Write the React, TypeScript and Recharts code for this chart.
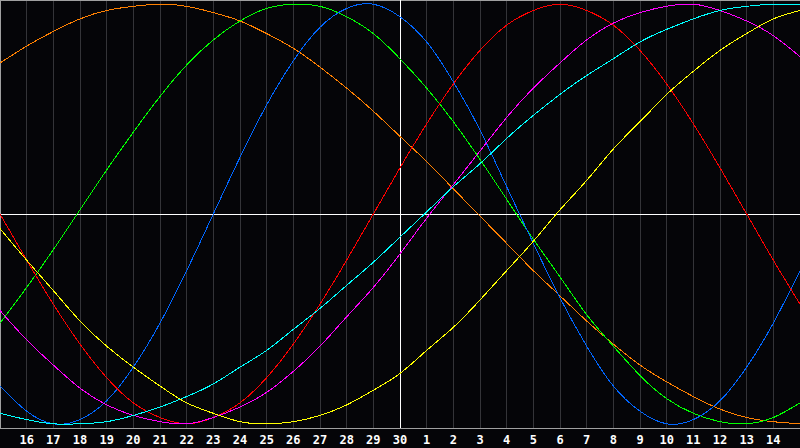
import React from "react";
import { LineChart, Line, XAxis, YAxis, CartesianGrid, ReferenceLine } from "recharts";

// day labels for each column, index 0..30 (15th of last month to 15th of this month)
const days = [15, 16, 17, 18, 19, 20, 21, 22, 23, 24, 25, 26, 27, 28, 29, 30, 1, 2, 3, 4, 5, 6, 7, 8, 9, 10, 11, 12, 13, 14, 15];
const tickIdx = [1, 2, 3, 4, 5, 6, 7, 8, 9, 10, 11, 12, 13, 14, 15, 16, 17, 18, 19, 20, 21, 22, 23, 24, 25, 26, 27, 28, 29];

// cycle values, one per day column
const physical = [-0.82, -0.94, -1.0, -0.98, -0.89, -0.73, -0.52, -0.27, 0.0, 0.27, 0.52, 0.73, 0.89, 0.98, 1.0, 0.94, 0.82, 0.63, 0.4, 0.13, -0.14, -0.4, -0.63, -0.82, -0.94, -1.0, -0.98, -0.89, -0.73, -0.52, -0.27];
const emotional = [0, -0.22, -0.43, -0.62, -0.78, -0.9, -0.97, -1.0, -0.97, -0.9, -0.78, -0.62, -0.43, -0.22, 0, 0.22, 0.43, 0.62, 0.78, 0.9, 0.97, 1.0, 0.97, 0.9, 0.78, 0.62, 0.43, 0.22, 0, -0.22, -0.43];
const intellectual = [-0.52, -0.35, -0.17, 0.02, 0.21, 0.39, 0.56, 0.71, 0.83, 0.92, 0.98, 1.0, 0.99, 0.94, 0.86, 0.74, 0.6, 0.44, 0.26, 0.07, -0.12, -0.3, -0.48, -0.63, -0.77, -0.88, -0.95, -0.99, -1.0, -0.97, -0.9];
const intuitive = [-0.46, -0.6, -0.72, -0.83, -0.91, -0.96, -0.99, -1.0, -0.97, -0.92, -0.85, -0.75, -0.63, -0.49, -0.35, -0.19, -0.02, 0.14, 0.3, 0.46, 0.6, 0.72, 0.83, 0.91, 0.96, 0.99, 1.0, 0.97, 0.92, 0.85, 0.75];
const aesthetic = [-0.07, -0.22, -0.365, -0.51, -0.63, -0.73, -0.82, -0.9, -0.95, -0.99, -1.0, -0.99, -0.96, -0.91, -0.84, -0.76, -0.65, -0.54, -0.41, -0.27, -0.13, 0.02, 0.16, 0.31, 0.44, 0.57, 0.68, 0.78, 0.86, 0.93, 0.97];
const awareness = [0.72, 0.8, 0.87, 0.93, 0.97, 0.99, 1.0, 0.99, 0.96, 0.92, 0.86, 0.79, 0.7, 0.6, 0.49, 0.37, 0.25, 0.12, -0.01, -0.14, -0.27, -0.39, -0.51, -0.62, -0.72, -0.8, -0.87, -0.93, -0.97, -0.99, -1.0];
const spiritual = [-0.95, -0.98, -1.0, -1.0, -0.99, -0.96, -0.92, -0.87, -0.81, -0.73, -0.65, -0.55, -0.45, -0.34, -0.23, -0.11, 0.01, 0.13, 0.24, 0.36, 0.47, 0.57, 0.66, 0.74, 0.82, 0.88, 0.93, 0.97, 0.99, 1.0, 1.0];

const data = days.map((d, i) => ({
  k: i,
  day: d,
  physical: physical[i],
  emotional: emotional[i],
  intellectual: intellectual[i],
  intuitive: intuitive[i],
  aesthetic: aesthetic[i],
  awareness: awareness[i],
  spiritual: spiritual[i],
}));

const series = [
  { key: "awareness", color: "#ff8000" },
  { key: "intellectual", color: "#00ff00" },
  { key: "physical", color: "#0066ff" },
  { key: "emotional", color: "#ff0000" },
  { key: "intuitive", color: "#ff00ff" },
  { key: "spiritual", color: "#00ffff" },
  { key: "aesthetic", color: "#ffff00" },
];

export default function App() {
  return (
    <div style={{ width: 800, height: 448, background: "#050508" }}>
      <style>{`body{margin:0;background:#050508} .bio path, .bio line{shape-rendering:crispEdges}`}</style>
      <LineChart className="bio" width={800} height={448} data={data} margin={{ top: 0, right: 0, left: 0, bottom: 0 }}>
        <CartesianGrid horizontal={false} stroke="#343438" strokeWidth={1} />
        <XAxis
          type="number"
          dataKey="k"
          domain={[0, 30]}
          ticks={tickIdx}
          tickFormatter={(k: number) => String(days[k])}
          height={20}
          tickLine={false}
          tickSize={0}
          tickMargin={7}
          axisLine={{ stroke: "#a0a0a0" }}
          tick={{ fill: "#ffffff", fontSize: 12, fontWeight: "bold", fontFamily: "DejaVu Sans Mono" }}
          interval={0}
        />
        <YAxis hide domain={[-1.02, 1.02]} width={0} />
        <ReferenceLine x={0} stroke="#a0a0a0" />
        <ReferenceLine y={1.02} stroke="#a0a0a0" />
        <ReferenceLine x={15} stroke="#ffffff" />
        <ReferenceLine y={0} stroke="#ffffff" />
        {series.map((s) => (
          <Line
            key={s.key}
            type="natural"
            dataKey={s.key}
            stroke={s.color}
            strokeWidth={1}
            dot={false}
            activeDot={false}
            isAnimationActive={false}
          />
        ))}
      </LineChart>
    </div>
  );
}
